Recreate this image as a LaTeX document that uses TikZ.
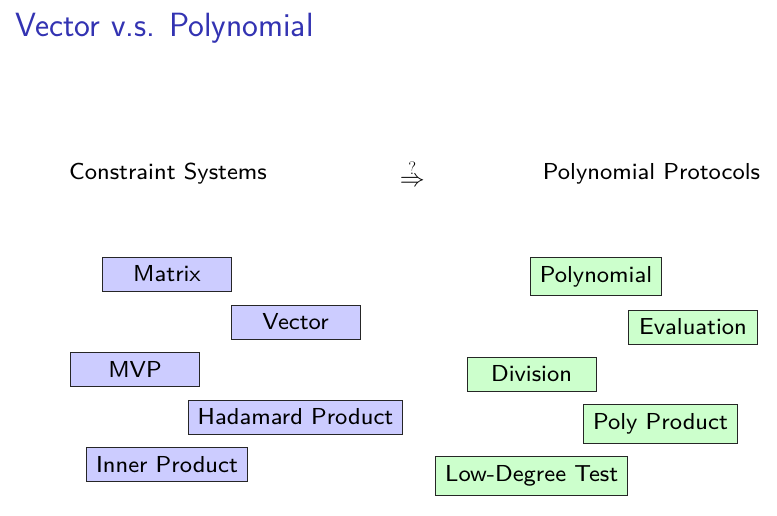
\documentclass[tikz,border=0pt]{standalone}
\usepackage{amsmath}
\usepackage{fontspec}
\newfontfamily\slidefont{lmsans8-regular.otf}
\begin{document}
\begin{tikzpicture}[x=1pt,y=-1pt,
  every node/.style={font=\slidefont\fontsize{23.1}{28}\selectfont},
  cbox/.style={draw=black!85, line width=0.9pt, inner xsep=9.5pt, inner ysep=8.9pt, minimum width=129pt},
  vecbox/.style={cbox, fill={rgb,255:red,204;green,204;blue,255}},
  polybox/.style={cbox, fill={rgb,255:red,204;green,255;blue,204}},
  headline/.style={anchor=base, inner sep=0pt}]
\useasboundingbox (0,0) rectangle (777,515);
\definecolor{structure}{RGB}{51,51,178}
% title
\node[anchor=base west, inner sep=0pt, text=structure, font=\sffamily\fontsize{33.6}{40}\selectfont] (title) at (15,36.7) {Vector v.s. Polynomial};
% column headings
\node[headline] (cs) at (168,179.3) {Constraint Systems};
\node[headline] (pp) at (651.5,179.3) {Polynomial Protocols};
% "implies?" sign between the headings
\node[inner sep=0pt, font=\fontsize{28}{30}\selectfont] (imp) at (412.2,182) {$\Rightarrow$};
\node[inner sep=0pt, anchor=base, font=\rmfamily\fontsize{18}{20}\selectfont] (qm) at (412.2,174) {?};
% constraint-system primitives
\node[vecbox] (matrix) at (167,274) {Matrix};
\node[vecbox] (vector) at (295.5,322) {Vector};
\node[vecbox] (mvp) at (135,369.5) {MVP};
\node[vecbox] (hadamard) at (295.5,417) {Hadamard Product};
\node[vecbox] (inner) at (167,464.3) {Inner Product};
% polynomial primitives
\node[polybox] (poly) at (596,276.6) {Polynomial};
\node[polybox] (eval) at (693,327) {Evaluation};
\node[polybox] (div) at (531.5,374) {Division};
\node[polybox] (polyprod) at (660.5,423.8) {Poly Product};
\node[polybox] (ldt) at (531.7,476) {Low-Degree Test};
\end{tikzpicture}
\end{document}
